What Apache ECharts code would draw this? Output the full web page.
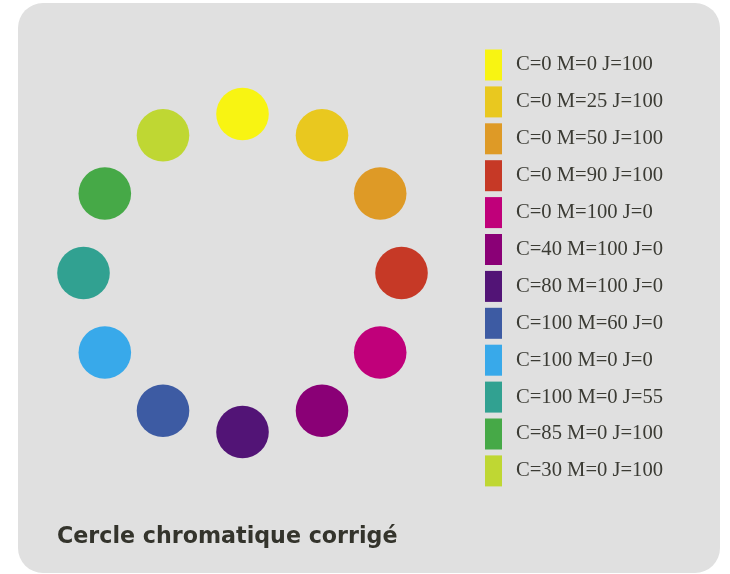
<!DOCTYPE html>
<html>
<head>
<meta charset="utf-8">
<script src="https://cdn.jsdelivr.net/npm/echarts@6/dist/echarts.min.js"></script>
<style>
  html, body { margin: 0; padding: 0; background: #ffffff; }
  #chart { width: 730px; height: 574px; }
</style>
</head>
<body>
<div id="chart"></div>
<script>
// libellés CMJ de la légende, dans l'ordre du cercle (sens horaire depuis le haut)
const labels = [
    "C=0 M=0 J=100",
    "C=0 M=25 J=100",
    "C=0 M=50 J=100",
    "C=0 M=90 J=100",
    "C=0 M=100 J=0",
    "C=40 M=100 J=0",
    "C=80 M=100 J=0",
    "C=100 M=60 J=0",
    "C=100 M=0 J=0",
    "C=100 M=0 J=55",
    "C=85 M=0 J=100",
    "C=30 M=0 J=100"
];
const colors = [
    "#f8f412", "#e9c81f", "#de9a26", "#c63926",
    "#c0007a", "#8a0076", "#521476", "#3d5ba3",
    "#38a9ea", "#31a191", "#46a947", "#bfd733"
];
// position angulaire de chaque pastille (degrés)
const angles = [0, 30, 60, 90, 120, 150, 180, 210, 240, 270, 300, 330];
const ringRadius = [1, 1, 1, 1, 1, 1, 1, 1, 1, 1, 1, 1];

const chart = echarts.init(document.getElementById("chart"));

const option = {
    backgroundColor: "#ffffff",
    animation: false,
    graphic: [{
        type: "rect",
        z: -10,
        shape: { x: 18, y: 3, width: 702, height: 570, r: 25 },
        style: { fill: "#e0e0e0" }
    }],
    title: {
        text: "Cercle chromatique corrigé",
        left: 57,
        top: 526,
        padding: 0,
        textStyle: {
            fontFamily: "DejaVu Sans",
            fontWeight: "bold",
            fontSize: 22.2,
            color: "#34342c"
        }
    },
    legend: {
        orient: "vertical",
        left: 485,
        top: 49.5,
        padding: 0,
        icon: "rect",
        itemWidth: 17,
        itemHeight: 31,
        itemGap: 5.9,
        selectedMode: false,
        data: labels,
        textStyle: {
            fontFamily: "Liberation Serif",
            fontSize: 20.6,
            color: "#3b3b34",
            padding: [6, 0, 0, 9]
        }
    },
    polar: {
        center: [242.5, 273],
        radius: 159
    },
    angleAxis: {
        type: "value",
        min: 0,
        max: 360,
        startAngle: 90,
        clockwise: true,
        show: false
    },
    radiusAxis: {
        type: "value",
        min: 0,
        max: 1,
        show: false
    },
    series: labels.map((name, i) => ({
        type: "scatter",
        name: name,
        coordinateSystem: "polar",
        symbol: "circle",
        symbolSize: 52.6,
        itemStyle: { color: colors[i], opacity: 1 },
        data: [[ringRadius[i], angles[i]]]
    }))
};

chart.setOption(option);
</script>
</body>
</html>
